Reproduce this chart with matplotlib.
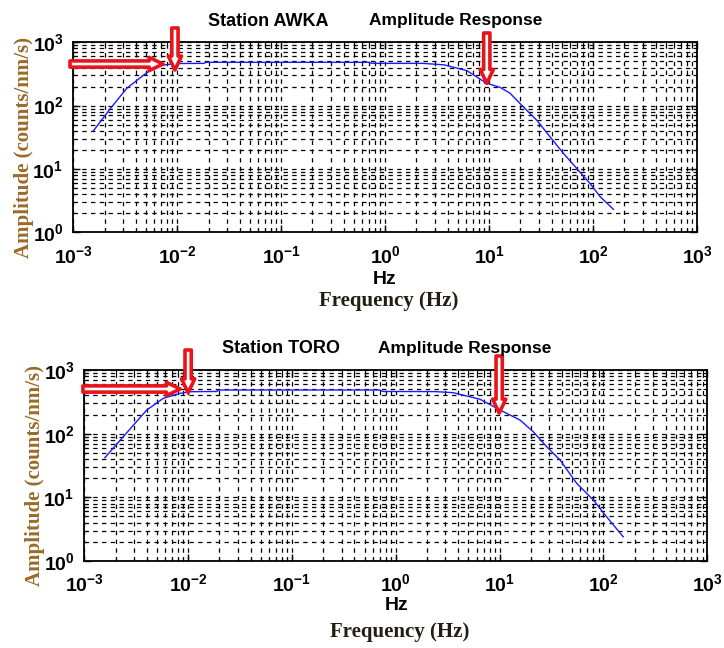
import matplotlib
matplotlib.use("Agg")
import matplotlib.pyplot as plt
from matplotlib.ticker import FixedLocator, NullFormatter, FuncFormatter
import math

plt.rcParams['mathtext.fontset'] = 'custom'
plt.rcParams['mathtext.rm'] = 'Liberation Sans:bold'
plt.rcParams['mathtext.it'] = 'Liberation Sans:bold'
plt.rcParams['mathtext.bf'] = 'Liberation Sans:bold'
plt.rcParams['font.family'] = ['Liberation Sans', 'DejaVu Sans']

# ---- data ----
stations = ["AWKA", "TORO"]

freq_awka = [1.56e-3, 2.25e-3, 3.27e-3, 5.08e-3, 6.83e-3, 9.5e-3, 0.018, 0.019, 0.7, 0.75,
             2.3, 3.7, 6.1, 9.5, 12.7, 15.9, 21.3, 28.7, 38.5, 51.8, 69.6, 93.5, 117, 157]
amp_awka = [40, 88, 188, 331, 430, 462, 465, 483, 483, 465,
            465, 440, 357, 225, 195, 157, 96, 59, 32.3, 17.7, 10.2, 5.9, 3.65, 2.31]

freq_toro = [1.58e-3, 2.38e-3, 3.99e-3, 5.77e-3, 8.36e-3, 0.0104, 0.0190, 0.0195, 0.7, 0.75,
             2.4, 3.58, 6.47, 10.1, 15.7, 21.1, 28.4, 38.2, 55.2, 79.8, 107, 155]
amp_toro = [42, 90, 235, 359, 430, 456, 460, 485, 485, 460,
            458, 440, 347, 235, 164, 107, 62.4, 38.5, 16.6, 9.1, 4.97, 2.4]

# arrow annotations: (tip_f, tip_A, tail_f, tail_A)
arrows_awka = [(7.3e-3, 454, 0.93e-3, 454), (0.0095, 366, 0.0095, 1683), (9.5, 225, 9.5, 1402)]
arrows_toro = [(8.4e-3, 503, 0.97e-3, 503), (0.0100, 440, 0.0100, 2060), (9.9, 211, 9.9, 1660)]

x_decades = [-3, -2, -1, 0, 1, 2, 3]
y_decades = [0, 1, 2, 3]
xlim = (1e-3, 1e3)
ylim = (1, 1e3)


def major_ticks(decs):
    return [10.0 ** d for d in decs]


def minor_ticks(decs):
    return [m * 10.0 ** d for d in decs[:-1] for m in range(2, 10)]


def pow_fmt(v, pos):
    e = int(round(math.log10(v)))
    return r'$\mathbf{10^{%d}}$' % e


fig = plt.figure(figsize=(7.24, 6.48), dpi=100)

W, H = 724.0, 648.0
panels = [
    dict(name=stations[0], f=freq_awka, a=amp_awka, arrows=arrows_awka,
         box=(73.3, 42.3, 697.0, 232.3), t1=(268, 21), t2=(456, 21), hz=385, hzy=280, fq=389, fqy=301),
    dict(name=stations[1], f=freq_toro, a=amp_toro, arrows=arrows_toro,
         box=(84.3, 370.0, 707.3, 561.0), t1=(281, 349), t2=(465, 349), hz=397, hzy=605, fq=400, fqy=632),
]

ylab_color = '#9a6a28'
freq_color = '#231d12'

for p in panels:
    x0, y0, x1, y1 = p['box']
    ax = fig.add_axes([x0 / W, 1 - y1 / H, (x1 - x0) / W, (y1 - y0) / H])
    ax.set_xscale('log')
    ax.set_yscale('log')
    ax.set_xlim(*xlim)
    ax.set_ylim(*ylim)
    ax.xaxis.set_major_locator(FixedLocator(major_ticks(x_decades)))
    ax.yaxis.set_major_locator(FixedLocator(major_ticks(y_decades)))
    ax.xaxis.set_minor_locator(FixedLocator(minor_ticks(x_decades)))
    ax.yaxis.set_minor_locator(FixedLocator(minor_ticks(y_decades)))
    ax.xaxis.set_major_formatter(FuncFormatter(pow_fmt))
    ax.yaxis.set_major_formatter(FuncFormatter(pow_fmt))
    ax.xaxis.set_minor_formatter(NullFormatter())
    ax.yaxis.set_minor_formatter(NullFormatter())
    ax.grid(True, which='both', color='black', linestyle=(0, (3.5, 3.5)), linewidth=0.9)
    ax.tick_params(which='both', direction='in', top=True, right=True, colors='black')
    ax.tick_params(which='major', length=5, width=1, labelsize=14)
    ax.tick_params(axis='x', which='major', pad=9)
    ax.tick_params(axis='y', which='major', pad=7)
    ax.tick_params(which='minor', length=3, width=0.8)
    for s in ax.spines.values():
        s.set_linewidth(1.3)
        s.set_color('black')
    ax.plot(p['f'], p['a'], color='#1a1aff', linewidth=1.0, zorder=3)

    for (tf, ta, sf, sa) in p['arrows']:
        ax.annotate('', xy=(tf, ta), xytext=(sf, sa), xycoords='data', textcoords='data',
                    annotation_clip=False, zorder=5,
                    arrowprops=dict(arrowstyle='simple,head_width=0.95,head_length=1.0,tail_width=0.45',
                                    mutation_scale=10, fc='white', ec='#e8141c', lw=2.6,
                                    shrinkA=0, shrinkB=0))

    fig.text(p['t1'][0] / W, 1 - p['t1'][1] / H, 'Station ' + p['name'], ha='center', va='center',
             fontsize=13, fontweight='bold', color='black')
    fig.text(p['t2'][0] / W, 1 - p['t2'][1] / H, 'Amplitude Response', ha='center', va='center',
             fontsize=12.5, fontweight='bold', color='black')
    fig.text(p['hz'] / W, 1 - p['hzy'] / H, 'Hz', ha='center', va='center',
             fontsize=14, fontweight='bold', color='black')
    fig.text(p['fq'] / W, 1 - p['fqy'] / H, 'Frequency (Hz)', ha='center', va='center',
             fontsize=15, fontweight='bold', color=freq_color, family=['Liberation Serif', 'DejaVu Serif'])
    yc = (y0 + y1) / 2.0
    fig.text((x0 - 49) / W, 1 - (yc + 10) / H, 'Amplitude (counts/nm/s)', ha='center', va='center',
             rotation=90, fontsize=15, fontweight='bold', color=ylab_color,
             family=['Liberation Serif', 'DejaVu Serif'])

fig.savefig('out.png', dpi=100)
